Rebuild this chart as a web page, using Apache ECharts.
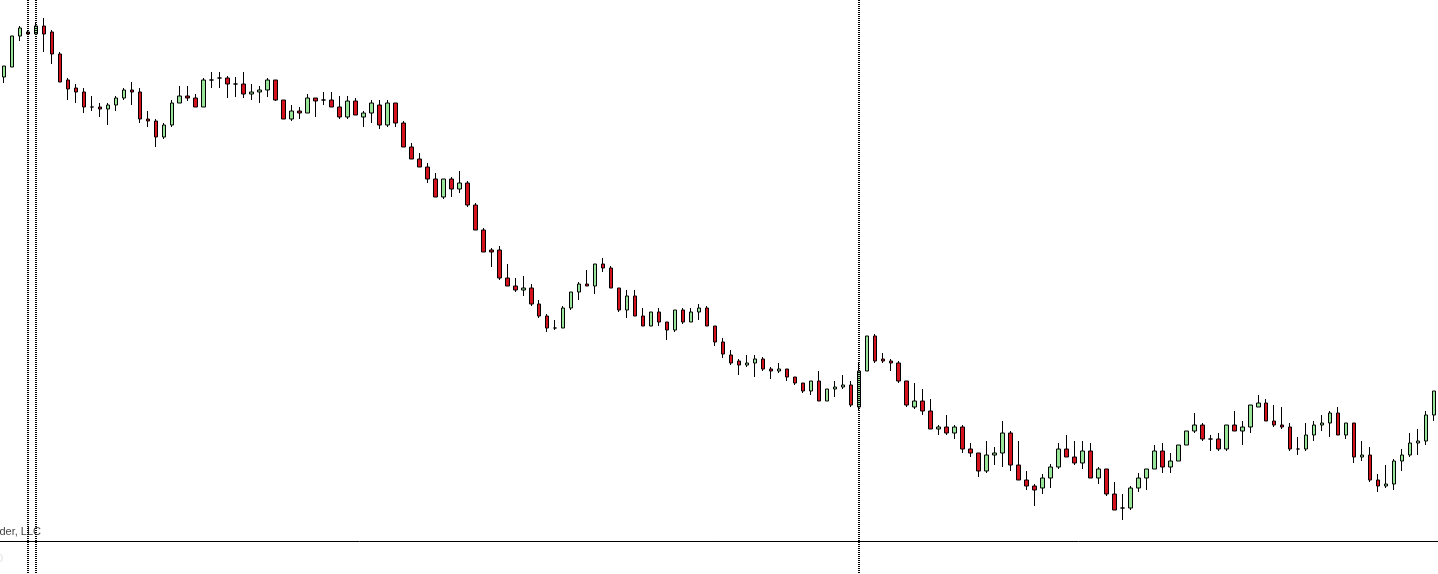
<!DOCTYPE html>
<html>
<head>
<meta charset="utf-8">
<script src="https://cdn.jsdelivr.net/npm/echarts@6/dist/echarts.min.js"></script>
<style>
html,body{margin:0;padding:0;background:#ffffff;overflow:hidden}
#chart{width:1438px;height:574px}
</style>
</head>
<body>
<div id="chart"></div>
<script>
// Price values (arbitrary price units), one per bar
const opens = [
497,507,538,542,540,548,542,520,494,486,
482,467,467,465,469,476,484,482,455,453,
437,449,471,478,476,467,494,496,496,490,
490,480,482,484,494,474,455,463,461,476,
474,474,467,457,473,457,461,469,449,471,
451,427,415,407,395,377,395,385,391,369,
344,324,324,296,288,284,286,270,258,246,
246,266,282,290,288,310,306,286,264,278,
258,248,262,252,244,264,252,262,266,248,
232,219,213,209,211,215,205,203,205,197,
191,183,193,173,185,187,189,167,203,238,
215,213,211,193,167,173,163,145,147,141,
147,125,121,103,119,121,141,109,94,88,
86,96,107,125,117,111,123,96,105,80,
66,66,86,96,105,123,107,113,129,143,
149,135,135,125,149,143,147,167,171,153,
149,147,125,125,139,149,151,161,139,151,
117,119,94,88,90,113,119,131,133,159
];
const closes = [
508,538,546,540,548,540,520,492,485,482,
467,467,465,469,476,484,482,455,453,437,
449,471,478,476,467,494,494,496,490,490,
480,482,484,494,474,455,463,461,476,473,
474,467,457,473,459,461,471,449,471,451,
427,415,407,395,377,395,385,391,369,344,
322,322,296,288,284,286,270,258,246,246,
266,282,290,288,310,306,286,264,278,258,
248,262,252,244,264,252,262,266,248,232,
220,211,209,211,215,205,203,205,197,191,
183,193,173,185,187,189,169,203,238,213,
213,211,193,169,173,163,145,147,141,147,
125,121,103,119,121,141,109,94,88,84,
96,107,125,117,111,123,96,105,80,64,
66,86,96,105,123,107,113,129,143,149,
135,135,125,149,143,147,169,171,153,149,
147,125,125,139,149,151,161,139,151,117,
119,94,88,90,113,119,131,133,159,183
];
const lows = [
491,507,533,539,539,522,510,492,474,471,
461,463,457,449,463,474,469,451,447,427,
435,447,471,473,467,467,486,486,476,477,
476,474,471,477,473,455,453,455,461,457,
469,467,455,455,459,447,451,445,447,447,
427,415,407,391,377,375,377,381,367,344,
322,307,294,288,282,278,268,256,242,244,
246,264,274,288,280,302,286,262,256,258,
248,248,248,234,242,250,252,254,248,228,
216,209,199,207,197,203,195,201,193,189,
181,179,173,173,177,185,167,164,203,211,
211,203,191,167,165,159,145,139,139,135,
121,117,97,101,109,107,103,94,84,68,
80,86,105,117,109,105,96,90,78,64,
54,64,82,84,105,101,101,113,129,141,
133,123,123,123,143,129,141,167,153,147,
145,123,119,123,133,143,137,139,135,111,
113,92,82,86,84,103,117,119,129,153
];
const highs = [
508,538,548,543,552,556,544,522,496,490,
486,478,471,471,478,486,492,486,463,455,
451,474,488,488,480,496,502,502,498,497,
502,490,488,496,494,474,469,467,480,476,
482,482,478,478,476,463,474,474,474,471,
453,431,421,411,401,395,397,403,393,371,
346,326,328,310,296,298,290,274,260,254,
268,282,292,304,310,316,308,286,284,284,
266,262,266,252,264,266,266,270,268,248,
236,224,215,219,219,217,207,211,205,197,
191,193,203,185,193,199,193,212,238,240,
221,215,213,193,191,185,175,149,159,149,
149,131,121,133,127,153,143,133,103,90,
100,110,131,139,133,133,131,107,105,92,
80,88,101,105,129,131,121,129,143,161,
151,139,141,149,163,153,169,179,175,169,
167,151,137,151,153,159,163,167,151,151,
133,127,100,109,115,125,141,145,163,183
];
const categories = opens.map(function (_, i) { return 'Bar ' + (i + 1); });
const separatorBars = [3, 4, 107];   // bar indices carrying the dotted period separators
const footerText = 'Forex Trader, LLC';

const chart = echarts.init(document.getElementById('chart'), null, {renderer: 'canvas'});
const ohlc = opens.map(function (o, i) { return [o, closes[i], lows[i], highs[i]]; });

chart.setOption({
  animation: false,
  backgroundColor: '#ffffff',
  grid: {left: -2, width: 1440, top: 0, bottom: 33, containLabel: false},
  xAxis: {
    type: 'category',
    data: categories,
    boundaryGap: true,
    axisLine: {show: true, onZero: false, lineStyle: {color: '#000000', width: 1}},
    axisTick: {show: false},
    axisLabel: {show: false},
    splitLine: {show: false}
  },
  yAxis: {
    type: 'value',
    min: 33,
    max: 574,
    show: false,
    splitLine: {show: false}
  },
  series: [{
    type: 'candlestick',
    data: ohlc,
    barWidth: 4,
    itemStyle: {
      color: '#98e498',
      color0: '#d3121e',
      borderColor: '#000000',
      borderColor0: '#000000',
      borderColorDoji: '#000000',
      borderWidth: 1
    }
  }]
});

const elements = separatorBars.map(function (idx) {
  const px = Math.round(chart.convertToPixel({xAxisIndex: 0}, categories[idx]));
  return {
    type: 'line',
    silent: true,
    z: 100,
    shape: {x1: px, y1: 0, x2: px, y2: 574},
    style: {stroke: '#000000', lineWidth: 2, lineDash: [1, 1]}
  };
});
elements.push({
  type: 'text',
  silent: true,
  z: 50,
  style: {
    x: 41, y: 532, text: footerText,
    font: '11px "Liberation Sans", Arial, sans-serif',
    fill: '#444444',
    textAlign: 'right', align: 'right',
    textVerticalAlign: 'middle', verticalAlign: 'middle'
  }
});
elements.push({
  type: 'text',
  silent: true,
  z: 50,
  style: {
    x: -3, y: 559, text: '0',
    font: '11px "Liberation Sans", Arial, sans-serif',
    fill: '#e2e2e2',
    textAlign: 'left', align: 'left',
    textVerticalAlign: 'middle', verticalAlign: 'middle'
  }
});
chart.setOption({graphic: {elements: elements}});
</script>
</body>
</html>
